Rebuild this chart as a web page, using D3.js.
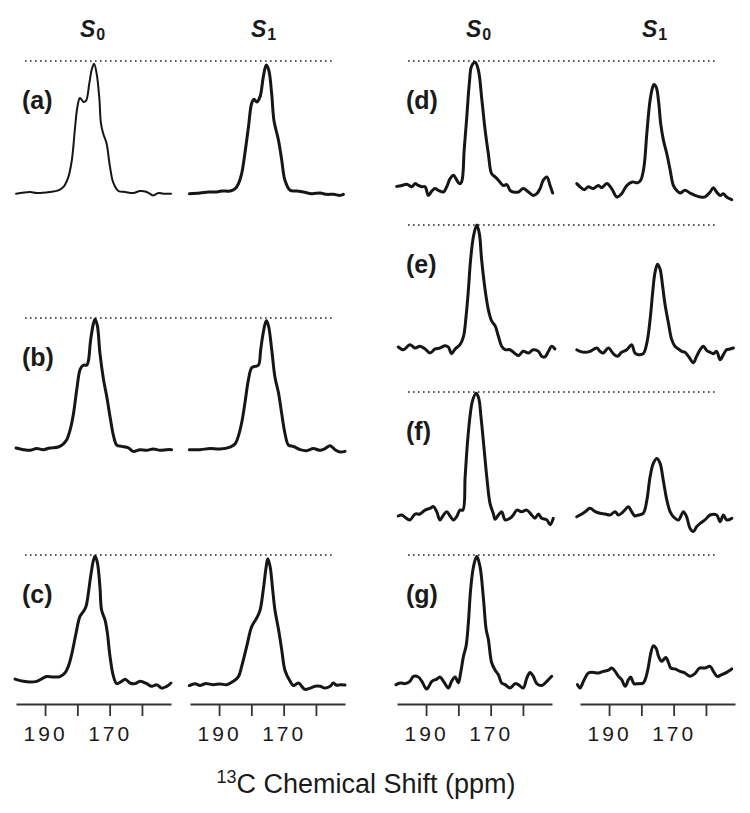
<!DOCTYPE html>
<html><head><meta charset="utf-8">
<script src="https://cdn.jsdelivr.net/npm/d3@7"></script>
<style>body{margin:0;background:#fff}svg{display:block}text{font-family:"Liberation Sans",Arial,Helvetica,sans-serif;fill:#1a1a1a}</style>
</head><body><svg id="chart" width="750" height="813"></svg>
<script>
// ---- data: [ppm, normalized intensity] ----
const tickValues = [190, 180, 170, 160];
const tickLabels = ["190", "", "170", ""];
const panelLabels = ["(a)", "(b)", "(c)", "(d)", "(e)", "(f)", "(g)"];
const headers = ["S0", "S1"];
const xTitle = "13C Chemical Shift (ppm)";

const a_S0 = [[199.0,-0.005],[194.6,0.008],[192.6,0],[188.5,0.008],[185.9,0.02],[184.3,0.046],[182.8,0.12],[181.7,0.25],[180.7,0.5],[180.0,0.65],[179.2,0.72],[178.1,0.69],[177.3,0.70],[176.3,0.83],[175.5,0.94],[174.8,0.98],[174.0,0.90],[173.2,0.72],[172.7,0.53],[172.0,0.45],[171.0,0.38],[169.9,0.2],[168.9,0.08],[167.3,0.015],[165.2,0.008],[162.7,0],[160.6,0.015],[158.5,0.008],[156.5,-0.018],[154.9,0],[153.4,-0.005],[151.0,-0.005]];
const a_S1 = [[199.2,-0.005],[195.9,0],[193.3,0.008],[190.7,0.008],[189.2,0.015],[186.6,0.015],[185.0,0.033],[184.0,0.07],[183.0,0.147],[182.0,0.3],[180.9,0.5],[179.9,0.68],[179.2,0.71],[178.3,0.69],[177.3,0.73],[176.3,0.88],[175.4,0.97],[174.6,0.93],[173.7,0.75],[173.0,0.55],[171.6,0.4],[170.6,0.25],[169.6,0.096],[168.0,0.02],[166.0,0.015],[163.9,0.008],[161.3,-0.005],[158.7,0],[156.7,-0.01],[154.6,-0.01],[152.5,-0.018],[151.5,-0.01]];
const b_S0 = [[199.0,0.008],[196.7,-0.005],[194.6,-0.01],[192.6,0.003],[190.5,-0.005],[188.5,0.008],[185.9,0.015],[184.3,0.04],[183.3,0.07],[182.2,0.15],[181.2,0.27],[180.2,0.45],[179.1,0.61],[178.1,0.64],[177.1,0.64],[176.6,0.67],[175.9,0.83],[175.0,0.96],[174.5,0.99],[173.8,0.94],[173.0,0.73],[171.9,0.53],[170.9,0.40],[169.9,0.25],[168.8,0.1],[167.8,0.03],[166.3,0.02],[164.2,0.008],[162.7,-0.018],[160.6,-0.005],[158.5,-0.01],[156.5,0],[154.4,-0.01],[152.3,-0.005],[150.8,-0.005]];
const b_S1 = [[199.2,-0.005],[195.9,-0.005],[192.8,0.003],[189.7,0],[186.6,0.015],[185.0,0.04],[184.0,0.1],[183.0,0.2],[182.0,0.35],[180.9,0.53],[179.9,0.62],[178.9,0.63],[177.8,0.64],[177.1,0.76],[176.3,0.89],[175.4,0.98],[174.7,0.94],[173.7,0.76],[172.7,0.55],[171.6,0.43],[170.6,0.27],[169.6,0.12],[168.5,0.03],[167.0,0.02],[164.9,-0.005],[162.9,-0.013],[160.8,0.003],[158.7,-0.01],[157.2,0.003],[155.6,0.025],[154.1,-0.005],[152.5,-0.023],[151.0,-0.018]];
const c_S0 = [[199.3,0.03],[196.7,0.013],[194.6,0.008],[192.6,0.013],[190.5,0.04],[189.5,0.05],[187.4,0.047],[185.4,0.05],[183.8,0.08],[182.8,0.13],[181.7,0.23],[180.4,0.39],[179.2,0.52],[178.1,0.56],[177.3,0.6],[176.6,0.7],[175.9,0.83],[175.0,0.96],[174.5,0.99],[173.8,0.94],[173.0,0.75],[172.5,0.57],[171.4,0.49],[170.7,0.39],[169.9,0.21],[168.8,0.05],[167.8,-0.005],[166.3,0.013],[165.2,0.03],[163.7,0],[162.1,-0.005],[160.6,0.013],[158.5,-0.005],[157.0,-0.026],[155.4,-0.013],[153.9,-0.04],[152.3,-0.026],[151.0,0]];
const c_S1 = [[199.2,-0.02],[197.4,-0.005],[195.9,-0.02],[194.3,-0.005],[191.8,-0.013],[189.7,-0.008],[187.6,-0.013],[185.6,0.013],[184.0,0.05],[183.0,0.13],[181.4,0.29],[179.9,0.44],[178.3,0.51],[177.3,0.57],[176.3,0.73],[175.4,0.91],[174.9,0.97],[174.2,0.91],[173.4,0.73],[172.7,0.57],[171.6,0.42],[170.6,0.26],[169.6,0.10],[168.0,0.013],[167.0,-0.02],[165.4,0],[164.4,-0.026],[163.4,-0.05],[161.8,-0.04],[160.3,-0.026],[158.7,-0.026],[157.2,-0.04],[155.6,-0.026],[154.6,0],[153.6,-0.018],[152.5,-0.013],[151.0,-0.016]];
const d_S0 = [[199.1,0.043],[197.5,0.05],[196.0,0.06],[194.4,0.04],[193.4,0.064],[192.4,0.05],[191.3,0.04],[190.3,0.04],[189.3,-0.026],[188.2,0.008],[187.2,0.026],[186.2,0.013],[184.6,0],[183.6,0.04],[182.6,0.1],[181.5,0.128],[180.7,0.1],[179.7,0.064],[179.0,0.077],[178.2,0.32],[177.4,0.57],[176.6,0.83],[175.9,0.96],[174.8,0.99],[173.8,0.93],[172.7,0.70],[171.7,0.47],[170.7,0.29],[169.7,0.14],[168.6,0.115],[167.6,0.09],[166.1,0.05],[165.0,0.056],[164.0,0.013],[163.0,0],[161.4,0],[159.9,0.026],[158.3,0],[156.8,-0.026],[155.7,-0.013],[154.7,0.026],[153.7,0.09],[152.6,0.115],[151.6,0.05],[150.8,-0.008]];
const d_S1 = [[200.0,0.064],[199.0,0.04],[197.7,0.018],[196.4,0.04],[194.9,0.026],[193.3,0.05],[192.3,0.033],[190.7,0.064],[189.2,0.026],[187.6,-0.038],[186.1,-0.013],[184.5,0.05],[182.8,0.077],[181.2,0.07],[180.2,0.09],[179.2,0.19],[178.3,0.45],[177.3,0.70],[176.5,0.80],[176.1,0.82],[175.4,0.80],[174.7,0.70],[174.0,0.52],[173.2,0.40],[172.1,0.29],[171.1,0.17],[170.1,0.05],[169.1,0.013],[168.0,-0.008],[166.5,0.013],[164.9,-0.008],[163.4,-0.026],[161.8,-0.038],[160.3,-0.038],[158.7,0],[157.7,0.033],[156.7,0],[155.6,-0.026],[154.6,-0.013],[153.6,-0.038],[152.0,-0.059]];
const e_S0 = [[198.6,0.008],[197.0,-0.014],[195.0,0.027],[193.4,0],[191.9,0.014],[190.3,-0.008],[188.8,-0.04],[187.2,-0.008],[185.7,0],[184.1,0.019],[183.1,0.008],[182.1,-0.046],[181.0,-0.008],[179.5,0.027],[178.4,0.095],[177.6,0.26],[176.9,0.47],[176.2,0.72],[175.3,0.91],[174.3,1.0],[173.5,0.93],[172.8,0.72],[171.7,0.47],[170.7,0.31],[169.7,0.22],[168.6,0.18],[167.6,0.095],[166.6,0.014],[165.5,-0.014],[164.0,-0.014],[162.4,-0.046],[161.4,-0.062],[159.9,-0.027],[158.3,-0.04],[156.8,-0.014],[155.2,-0.027],[154.2,-0.068],[153.2,-0.073],[152.1,-0.027],[151.1,0.014],[150.1,-0.008]];
const e_S1 = [[200.0,-0.014],[199.0,-0.027],[197.4,-0.035],[195.9,-0.027],[193.8,0],[192.8,-0.027],[191.8,-0.04],[190.2,0],[188.7,-0.046],[187.4,-0.068],[186.1,-0.035],[184.5,-0.014],[183.0,0.027],[182.0,-0.04],[180.9,-0.054],[179.4,-0.046],[178.3,0.04],[177.3,0.23],[176.5,0.45],[175.8,0.61],[175.0,0.68],[174.2,0.64],[173.4,0.5],[172.7,0.36],[171.6,0.2],[170.6,0.068],[169.6,0.014],[168.5,-0.008],[167.5,-0.027],[166.5,-0.035],[165.4,-0.068],[163.9,-0.12],[162.9,-0.068],[161.8,-0.014],[160.8,0.014],[159.8,-0.019],[158.7,-0.035],[157.7,-0.046],[156.7,-0.027],[155.6,-0.095],[154.6,-0.054],[153.6,-0.014],[152.5,-0.008],[151.5,0]];
const f_S0 = [[198.6,-0.008],[197.5,0],[196.5,-0.019],[195.0,-0.04],[193.4,0.008],[191.9,0.008],[190.3,0.04],[188.8,0.054],[187.7,0.068],[186.7,0.027],[185.7,-0.04],[184.6,0],[183.6,0.027],[182.6,-0.008],[181.5,-0.04],[180.5,-0.014],[179.5,0.04],[178.6,0.04],[177.9,0.31],[177.2,0.58],[176.4,0.8],[175.6,0.93],[174.5,0.99],[173.7,0.95],[173.0,0.8],[172.0,0.53],[171.2,0.31],[170.2,0.095],[169.2,0.014],[168.6,-0.035],[167.6,0],[166.6,0.027],[165.5,-0.04],[164.0,-0.027],[163.0,0],[161.9,0.04],[160.4,0.027],[158.8,0.04],[157.3,0],[156.3,-0.027],[155.2,0.008],[154.2,-0.027],[152.6,-0.04],[151.6,-0.08],[150.6,-0.027]];
const f_S1 = [[200.0,-0.014],[199.0,0],[197.4,0.027],[195.9,0.054],[194.3,0.027],[192.8,0.014],[191.2,0.008],[189.7,0],[188.1,0.027],[187.1,0],[185.6,0.027],[184.0,0.068],[183.0,0.027],[182.0,-0.008],[180.9,0],[179.4,0.014],[178.3,0.12],[177.3,0.31],[176.3,0.42],[175.2,0.46],[174.2,0.42],[173.2,0.28],[172.1,0.12],[171.1,0.027],[170.1,-0.014],[168.5,-0.04],[167.0,0.027],[166.0,-0.014],[164.9,-0.11],[163.9,-0.135],[162.9,-0.095],[161.8,-0.068],[160.3,-0.04],[158.7,0],[156.7,0],[155.6,-0.054],[154.6,0],[153.6,-0.04],[152.0,-0.027]];
const g_S0 = [[199.3,-0.013],[198.0,0],[196.5,-0.005],[195.0,0.013],[193.9,0.052],[192.4,0.047],[191.3,0.013],[189.8,-0.047],[188.2,0.013],[186.7,0.03],[185.7,0.047],[184.6,0.013],[183.1,-0.039],[182.1,0.013],[181.0,0.047],[180.0,0],[179.3,0.078],[178.4,0.21],[177.6,0.29],[176.9,0.47],[176.2,0.73],[175.3,0.91],[174.3,0.99],[173.3,0.91],[172.2,0.65],[171.4,0.42],[170.7,0.34],[169.7,0.16],[168.6,0.1],[167.6,0.065],[166.6,0],[165.5,-0.013],[164.0,-0.039],[162.4,-0.005],[161.4,-0.013],[159.9,-0.039],[158.8,0.039],[157.8,0.083],[156.8,0.052],[155.7,-0.005],[154.2,-0.02],[152.6,0.013],[151.1,0.052]];
const g_S1 = [[199.8,-0.013],[199.0,-0.039],[197.7,0.026],[196.4,0.078],[194.9,0.083],[193.3,0.078],[191.8,0.091],[190.2,0.1],[189.2,0.117],[188.1,0.091],[187.1,0.052],[186.1,0.026],[185.0,-0.026],[184.0,0.026],[183.3,0.047],[182.3,-0.005],[180.9,-0.005],[179.4,0],[178.5,0.052],[177.8,0.13],[177.1,0.23],[176.3,0.29],[175.4,0.27],[174.7,0.21],[173.7,0.17],[172.4,0.2],[171.6,0.16],[170.9,0.117],[169.6,0.11],[168.0,0.091],[166.5,0.078],[164.9,0.052],[163.4,0.073],[162.0,0.117],[160.3,0.117],[158.7,0.13],[157.7,0.091],[156.5,0.052],[155.1,0.065],[153.6,0.083],[152.0,0.11]];

// ---- layout (pixel geometry) ----
const xDomain = [199, 151];
const cols = {
  L: { s0: [16, 171], s1: [190, 345], dots: [25, 332], labelX: 22, head: [80, 251] },
  R: { s0: [397, 552], s1: [580, 735], dots: [408, 717], labelX: 406, head: [466, 642] }
};
const rows = [
  { col: "L", top: 61,  base: 193, s0: a_S0, s1: a_S1, w0: 2.0 },
  { col: "L", top: 318, base: 449, s0: b_S0, s1: b_S1 },
  { col: "L", top: 555, base: 683, s0: c_S0, s1: c_S1 },
  { col: "R", top: 61,  base: 192, s0: d_S0, s1: d_S1 },
  { col: "R", top: 225, base: 348, s0: e_S0, s1: e_S1 },
  { col: "R", top: 392, base: 515, s0: f_S0, s1: f_S1 },
  { col: "R", top: 555, base: 683, s0: g_S0, s1: g_S1 }
];
const axisY = 704;

const svg = d3.select("#chart");
const ink = "#161616";

rows.forEach((r, i) => {
  const c = cols[r.col];
  const y = d3.scaleLinear().domain([0, 1]).range([r.base, r.top]);
  svg.append("line")
    .attr("x1", c.dots[0]).attr("x2", c.dots[1])
    .attr("y1", y(1)).attr("y2", y(1))
    .attr("stroke", "#222").attr("stroke-width", 1.6)
    .attr("stroke-dasharray", "1.6,3.4");
  [["s0", r.s0, r.w0 || 3], ["s1", r.s1, 3]].forEach(([k, data, w]) => {
    const x = d3.scaleLinear().domain(xDomain).range(c[k]);
    const line = d3.line().x(d => x(d[0])).y(d => y(d[1])).curve(d3.curveCatmullRom.alpha(0.5));
    svg.append("path").datum(data).attr("d", line)
      .attr("fill", "none").attr("stroke", ink).attr("stroke-width", w)
      .attr("stroke-linejoin", "round").attr("stroke-linecap", "round");
  });
  svg.append("text").attr("x", c.labelX).attr("y", y(1) + 48)
    .attr("font-size", 25).attr("font-weight", "bold").text(panelLabels[i]);
});

// headers S0 / S1
Object.values(cols).forEach(c => {
  headers.forEach((h, j) => {
    const t = svg.append("text").attr("x", c.head[j]).attr("y", 37)
      .attr("font-size", 23).attr("font-weight", "bold");
    t.append("tspan").attr("font-style", "italic").text(h[0]);
    t.append("tspan").attr("font-size", 16).attr("dy", 3).attr("dx", 1).text(h.slice(1));
  });
});

// x axes
Object.values(cols).forEach(c => {
  ["s0", "s1"].forEach(k => {
    const x = d3.scaleLinear().domain(xDomain).range(c[k]);
    const ax = d3.axisBottom(x).tickValues(tickValues).tickSize(12).tickSizeOuter(0)
      .tickFormat((d, i) => tickLabels[i]);
    const g = svg.append("g").attr("transform", `translate(0,${axisY})`).call(ax);
    g.select(".domain").attr("stroke", "#333").attr("stroke-width", 2);
    g.selectAll(".tick line").attr("stroke", "#333").attr("stroke-width", 1.8);
    g.selectAll(".tick text").attr("y", 37).attr("dy", 0).attr("dx", 0)
      .attr("font-size", 21).attr("letter-spacing", 3)
      .style("font-family", '"Liberation Sans",Arial,sans-serif').attr("fill", "#1a1a1a");
  });
});

// x title with superscript
const tt = svg.append("text").attr("x", 366).attr("y", 793).attr("text-anchor", "middle")
  .attr("font-size", 27);
tt.append("tspan").attr("font-size", 18).attr("dy", -10).text(xTitle.slice(0, 2));
tt.append("tspan").attr("dy", 10).text(xTitle.slice(2));
</script></body></html>
